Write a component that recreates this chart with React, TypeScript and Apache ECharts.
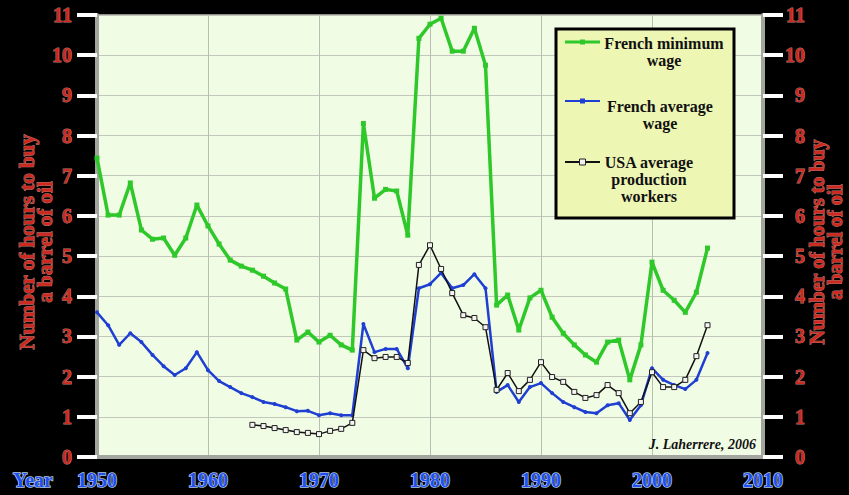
import React, { useEffect, useRef } from "react";
import * as echarts from "echarts";

const FRENCH_YEARS = [
  1950, 1951, 1952, 1953, 1954, 1955, 1956, 1957, 1958, 1959,
  1960, 1961, 1962, 1963, 1964, 1965, 1966, 1967, 1968, 1969,
  1970, 1971, 1972, 1973, 1974, 1975, 1976, 1977, 1978, 1979,
  1980, 1981, 1982, 1983, 1984, 1985, 1986, 1987, 1988, 1989,
  1990, 1991, 1992, 1993, 1994, 1995, 1996, 1997, 1998, 1999,
  2000, 2001, 2002, 2003, 2004, 2005,
];

const FRENCH_MIN_WAGE = [
  7.44, 6.02, 6.02, 6.82, 5.65, 5.42, 5.45, 5.02, 5.45, 6.27,
  5.75, 5.3, 4.9, 4.75, 4.65, 4.5, 4.33, 4.18, 2.91, 3.11,
  2.86, 3.03, 2.79, 2.66, 8.3, 6.44, 6.66, 6.62, 5.52, 10.42,
  10.77, 10.92, 10.1, 10.1, 10.67, 9.75, 3.78, 4.03, 3.16, 3.96,
  4.15, 3.48, 3.08, 2.79, 2.54, 2.36, 2.86, 2.91, 1.92, 2.79,
  4.85, 4.15, 3.9, 3.6, 4.1, 5.2,
];

const FRENCH_AVG_WAGE = [
  3.6, 3.28, 2.79, 3.08, 2.86, 2.54, 2.26, 2.04, 2.21, 2.61,
  2.16, 1.89, 1.74, 1.59, 1.49, 1.37, 1.32, 1.24, 1.14, 1.15,
  1.04, 1.09, 1.04, 1.04, 3.31, 2.61, 2.69, 2.69, 2.21, 4.2,
  4.3, 4.58, 4.2, 4.28, 4.55, 4.2, 1.62, 1.79, 1.37, 1.74,
  1.84, 1.59, 1.37, 1.24, 1.12, 1.09, 1.29, 1.34, 0.92, 1.29,
  2.21, 1.92, 1.79, 1.69, 1.92, 2.59,
];

const USA_YEARS = [
  1964, 1965, 1966, 1967, 1968, 1969,
  1970, 1971, 1972, 1973, 1974, 1975, 1976, 1977, 1978, 1979,
  1980, 1981, 1982, 1983, 1984, 1985, 1986, 1987, 1988, 1989,
  1990, 1991, 1992, 1993, 1994, 1995, 1996, 1997, 1998, 1999,
  2000, 2001, 2002, 2003, 2004, 2005,
];

const USA_AVG_PRODUCTION = [
  0.8, 0.77, 0.72, 0.67, 0.62, 0.6,
  0.57, 0.65, 0.7, 0.85, 2.66, 2.46, 2.49, 2.49, 2.34, 4.78,
  5.27, 4.68, 4.08, 3.53, 3.46, 3.23, 1.67, 2.09, 1.64, 1.92,
  2.36, 1.99, 1.87, 1.62, 1.47, 1.54, 1.79, 1.59, 1.09, 1.37,
  2.11, 1.74, 1.74, 1.92, 2.51, 3.28,
];

const SERIES_NAMES = [
  "French minimum\nwage",
  "French average\nwage",
  "USA average\nproduction\nworkers",
];

const AXIS_NAME = "Number of hours to buy\na barrel of oil";
const X_AXIS_TITLE = "Year";
const CREDIT = "J. Laherrere, 2006";

const SERIF = "Liberation Serif, Times New Roman, serif";
const RED = "#cc2a20";
const RED_HALO = "rgba(255,175,165,0.7)";
const BLUE = "#1f4ff0";
const BLUE_HALO = "rgba(205,225,255,0.9)";
const GREEN = "#2fc82a";
const NAVY = "#1e3fd2";

function pairs(xs: number[], ys: number[]) {
  return xs.map((x, i) => [x, ys[i]]);
}

export default function App() {
  const ref = useRef<HTMLDivElement>(null);

  useEffect(() => {
    if (!ref.current) return;
    const chart = echarts.init(ref.current, undefined, { renderer: "svg" });

    const yAxisCommon = {
      type: "value" as const,
      min: 0,
      max: 11,
      interval: 1,
      axisLine: { show: true, lineStyle: { color: "#a3a69e", width: 4 } },
      axisTick: { show: true, inside: false, length: 20, lineStyle: { color: "#ffffff", width: 4 } },
      axisLabel: {
        color: RED,
        fontFamily: SERIF,
        fontWeight: "bold" as const,
        fontSize: 20,
        textBorderColor: RED_HALO,
        textBorderWidth: 1,
      },
    };

    const legendY = [42, 101, 162];
    const legendText = [
      { x: 664, y: 34.5, text: SERIES_NAMES[0] },
      { x: 660, y: 97.5, text: SERIES_NAMES[1] },
      { x: 649, y: 153.5, text: SERIES_NAMES[2] },
    ];
    const legendColors = [GREEN, NAVY, "#111111"];

    const legendElements: any[] = [
      {
        type: "rect",
        shape: { x: 556, y: 29, width: 178, height: 189 },
        style: { fill: "#eef6b4", stroke: "#000000", lineWidth: 3 },
        z: 100,
      },
    ];
    legendY.forEach((ly, i) => {
      legendElements.push({
        type: "line",
        shape: { x1: 565, y1: ly, x2: 600, y2: ly },
        style: { stroke: legendColors[i], lineWidth: i === 0 ? 3 : 2 },
        z: 101,
      });
      if (i === 2) {
        legendElements.push({
          type: "rect",
          shape: { x: 579.5, y: ly - 3, width: 6, height: 6 },
          style: { fill: "#f0f0f0", stroke: "#222", lineWidth: 1 },
          z: 102,
        });
      } else {
        legendElements.push({
          type: "rect",
          shape: { x: 580, y: ly - 2.5, width: 5, height: 5 },
          style: { fill: legendColors[i] },
          z: 102,
        });
      }
      legendElements.push({
        type: "text",
        z: 103,
        style: {
          text: legendText[i].text,
          x: legendText[i].x,
          y: legendText[i].y,
          fill: "#111111",
          fontSize: 16,
          fontWeight: "bold",
          fontFamily: SERIF,
          lineHeight: 17,
          align: "center",
          textAlign: "center",
          verticalAlign: "top",
          textVerticalAlign: "top",
        },
      });
    });

    const axisNameStyle = (x: number, size: number) => ({
      type: "text",
      x,
      y: 242,
      rotation: Math.PI / 2,
      z: 50,
      style: {
        text: AXIS_NAME,
        x: 0,
        y: 0,
        fill: RED,
        stroke: RED_HALO,
        lineWidth: 1,
        fontSize: size,
        fontWeight: "bold",
        fontFamily: SERIF,
        lineHeight: 18,
        align: "center",
        textAlign: "center",
        verticalAlign: "middle",
        textVerticalAlign: "middle",
      },
    });

    chart.setOption({
      animation: false,
      backgroundColor: "#000000",
      grid: {
        left: 97,
        right: 86,
        top: 15,
        bottom: 38,
        show: true,
        backgroundColor: "#f1fce5",
        borderColor: "#8c8f88",
        borderWidth: 2,
      },
      xAxis: {
        type: "value",
        min: 1950,
        max: 2010,
        interval: 10,
        axisLine: { show: true, lineStyle: { color: "#a3a69e", width: 4 } },
        axisTick: { show: false },
        splitLine: { show: true, lineStyle: { color: "#b9bdb2", width: 1 } },
        axisLabel: {
          color: BLUE,
          fontFamily: SERIF,
          fontWeight: "bold",
          fontSize: 20,
          margin: 13,
          textBorderColor: BLUE_HALO,
          textBorderWidth: 1.5,
          formatter: (v: number) => String(v),
        },
      },
      yAxis: [
        {
          ...yAxisCommon,
          position: "left",
          axisLabel: { ...yAxisCommon.axisLabel, margin: 25 },
          splitLine: { show: true, lineStyle: { color: "#c2c6bb", width: 1 } },
        },
        {
          ...yAxisCommon,
          position: "right",
          axisLabel: { ...yAxisCommon.axisLabel, margin: 42, align: "right" },
          splitLine: { show: false },
        },
      ],
      series: [
        {
          name: SERIES_NAMES[0],
          type: "line",
          data: pairs(FRENCH_YEARS, FRENCH_MIN_WAGE),
          lineStyle: { color: GREEN, width: 3.5 },
          itemStyle: { color: GREEN },
          symbol: "rect",
          symbolSize: 5,
          z: 2,
        },
        {
          name: SERIES_NAMES[1],
          type: "line",
          data: pairs(FRENCH_YEARS, FRENCH_AVG_WAGE),
          lineStyle: { color: NAVY, width: 2.5 },
          itemStyle: { color: NAVY },
          symbol: "circle",
          symbolSize: 4,
          z: 3,
        },
        {
          name: SERIES_NAMES[2],
          type: "line",
          data: pairs(USA_YEARS, USA_AVG_PRODUCTION),
          lineStyle: { color: "#111111", width: 1.5 },
          itemStyle: { color: "#f4f4f0", borderColor: "#222222", borderWidth: 1 },
          symbol: "rect",
          symbolSize: 5,
          showAllSymbol: true,
          z: 4,
        },
      ],
      graphic: [
        axisNameStyle(36, 21),
        axisNameStyle(826, 20),
        {
          type: "text",
          z: 50,
          style: {
            text: X_AXIS_TITLE,
            x: 33,
            y: 480,
            fill: BLUE,
            stroke: BLUE_HALO,
            lineWidth: 1.5,
            fontSize: 20,
            fontWeight: "bold",
            fontFamily: SERIF,
            align: "center",
            textAlign: "center",
            verticalAlign: "middle",
            textVerticalAlign: "middle",
          },
        },
        {
          type: "text",
          z: 50,
          style: {
            text: CREDIT,
            x: 756,
            y: 444,
            fill: "#111111",
            fontSize: 14,
            fontWeight: "bold",
            fontStyle: "italic",
            fontFamily: SERIF,
            align: "right",
            textAlign: "right",
            verticalAlign: "middle",
            textVerticalAlign: "middle",
          },
        },
        ...legendElements,
      ],
    });

    return () => chart.dispose();
  }, []);

  return (
    <div
      ref={ref}
      style={{ position: "fixed", left: 0, top: 0, width: 849, height: 495 }}
    />
  );
}
